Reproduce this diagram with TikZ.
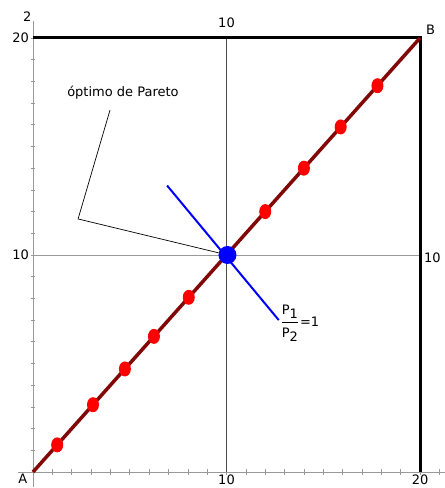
\documentclass[tikz,border=0pt]{standalone}
\usepackage{amsmath}
\usepackage{fontspec}
\setmainfont{DejaVu Sans}
\usetikzlibrary{positioning,calc,shapes.geometric}

\begin{document}
\begin{tikzpicture}[
    x=19.35pt, y=21.7pt,
    font=\fontsize{13}{15}\selectfont,
    axis/.style={draw=gray!80, line width=0.8pt},
    tick/.style={draw=gray!80, line width=0.6pt},
    grid10/.style={draw=black!70, line width=0.7pt},
    frame/.style={draw=black, line width=3pt},
    contract/.style={draw={rgb,255:red,130;green,8;blue,8}, line width=3.5pt},
    dot/.style={ellipse, fill=red, inner sep=0pt, minimum width=12pt, minimum height=15pt},
    optimum/.style={circle, fill=blue, inner sep=0pt, minimum size=18pt},
    price/.style={draw=blue, line width=2pt},
    pointer/.style={draw=black, line width=0.7pt},
    lbl/.style={inner sep=1pt}
]
\useasboundingbox (-1.705,-0.737) rectangle (21.29,21.75);

% axes and ticks
\draw[axis] (-0.75,0) -- (21.3,0);
\draw[axis] (0,-0.7) -- (0,20.8);
\foreach \i in {1,...,21} {
    \draw[tick] (\i,-0.12) -- (\i,0.12);
}
\foreach \i in {1,...,20} {
    \draw[tick] (-0.12,\i) -- (0.12,\i);
}

% box corners
\coordinate (A) at (0,0);
\coordinate (B) at (20,20);
\coordinate (topleft) at (0,20);
\coordinate (botright) at (20,0);
\coordinate (midtop) at (10,20);
\coordinate (midbot) at (10,0);
\coordinate (midleft) at (0,10);
\coordinate (midright) at (20,10);

\draw[grid10] (midtop) -- (midbot);
\draw[grid10, draw=gray!80] (midleft) -- (midright);
\draw[frame] (topleft) -- (B) -- (botright);

% axis labels
\node[lbl] (ytop) at (-0.3,20.97) {2};
\node[lbl, anchor=east] (y20) at (-0.15,20) {20};
\node[lbl, anchor=east] (y10) at (-0.15,10) {10};
\node[lbl, anchor=north] (x10) at (10,-0.08) {10};
\node[lbl, anchor=north] (x20) at (20,-0.08) {20};
\node[lbl] (t10) at (10,20.72) {10};
\node[lbl, anchor=west] (r10) at (20.15,9.88) {10};
\node[lbl] (labA) at (-0.52,-0.33) {A};
\node[lbl] (labB) at (20.55,20.4) {B};

% contract curve
\draw[contract] (A) -- (B);
\foreach \p [count=\k] in {1.25,3.1,4.75,6.25,8.05,12.0,14.0,15.9,17.8} {
    \node[dot] (d\k) at (\p,\p) {};
}

% price line and optimum
\coordinate (pl1) at (6.93,13.2);
\coordinate (pl2) at (12.7,7.0);
\draw[price] (pl1) -- (pl2);
\node[optimum] (opt) at (10.05,10) {};
\node[lbl, anchor=west] (ratio) at (12.8,6.85)
    {{\setlength{\tabcolsep}{0pt}\begin{tabular}{c}
      P\raisebox{-4pt}{1}\\[3pt]\hline
      \rule{0pt}{15pt}P\raisebox{-4pt}{2}
    \end{tabular}}\hspace{2pt}=1};

% pareto label
\node[lbl] (pareto) at (4.65,17.5) {óptimo de Pareto};
\coordinate (ptr) at (3.98,16.68);
\coordinate (kink) at (2.33,11.66);
\draw[pointer] (ptr) -- (kink) -- (opt);

\end{tikzpicture}
\end{document}
